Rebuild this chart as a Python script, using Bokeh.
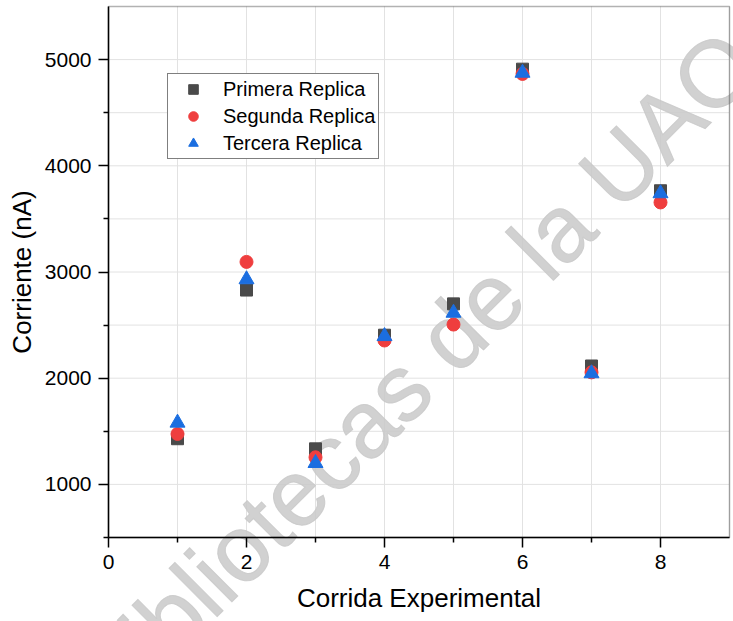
import math
from bokeh.plotting import figure
from bokeh.models import FixedTicker, Legend, LegendItem, Label, Range1d, BoxAnnotation
from bokeh.embed import file_html
from bokeh.resources import INLINE

# ---- data ----
corrida = [1, 2, 3, 4, 5, 6, 7, 8]
primera = [1430, 2830, 1335, 2405, 2700, 4910, 2115, 3765]
segunda = [1475, 3095, 1255, 2355, 2505, 4865, 2055, 3655]
tercera = [1580, 2930, 1200, 2395, 2615, 4875, 2045, 3740]
series_names = ["Primera Replica", "Segunda Replica", "Tercera Replica"]
x_major = [0, 2, 4, 6, 8]
x_minor = [1, 3, 5, 7]
y_major = [1000, 2000, 3000, 4000, 5000]
y_minor = [500, 1500, 2500, 3500, 4500]
x_lim = [0, 9]
y_lim = [500, 5500]
watermark = "Bibliotecas de la UAQ"

FONT = "Liberation Sans"
W, H = 733, 621
# pixel margins of the plotting box inside the canvas
m_left, m_right, m_top, m_bottom = 108, 4, 6, 84

sx = (W - m_left - m_right) / (x_lim[1] - x_lim[0])
sy = (H - m_top - m_bottom) / (y_lim[1] - y_lim[0])
x_range = Range1d(x_lim[0] - m_left / sx, x_lim[1] + m_right / sx)
y_range = Range1d(y_lim[0] - m_bottom / sy, y_lim[1] + m_top / sy)

p = figure(width=W, height=H, output_backend="svg", toolbar_location=None,
           x_range=x_range, y_range=y_range,
           min_border=0, min_border_left=0, min_border_right=0,
           min_border_top=0, min_border_bottom=0)
p.background_fill_color = "white"
p.border_fill_color = "white"
p.outline_line_color = None
p.grid.visible = False

# axes drawn at the edges of the plotting box (take no panel space)
p.xaxis.ticker = FixedTicker(ticks=x_major, minor_ticks=x_minor)
p.yaxis.ticker = FixedTicker(ticks=y_major, minor_ticks=y_minor)
p.xaxis.fixed_location = y_lim[0]
p.yaxis.fixed_location = x_lim[0]
p.xaxis.bounds = tuple(x_lim)
p.yaxis.bounds = tuple(y_lim)

# grid lines at every integer run and every 500 nA
gx = sorted(x_major + x_minor)[1:] + [x_lim[1]]
gy = sorted(y_major + y_minor)[1:]
g1 = p.segment(x0=gx, y0=[y_lim[0]] * len(gx), x1=gx, y1=[y_lim[1]] * len(gx),
               line_color="#e2e2e2", line_width=1)
g2 = p.segment(x0=[x_lim[0]] * len(gy), y0=gy, x1=[x_lim[1]] * len(gy), y1=gy,
               line_color="#e2e2e2", line_width=1)
g1.level = "underlay"
g2.level = "underlay"

# frame box
box = BoxAnnotation(left=x_lim[0], right=x_lim[1], bottom=y_lim[0], top=y_lim[1],
                    fill_alpha=0, line_color="black", line_width=1.5, level="guide")
p.add_layout(box)

for ax in (p.xaxis[0], p.yaxis[0]):
    ax.axis_line_color = "black"
    ax.axis_line_width = 1.5
    ax.major_tick_line_color = "black"
    ax.major_tick_line_width = 1.5
    ax.minor_tick_line_color = "black"
    ax.minor_tick_line_width = 1.5
    ax.major_tick_out = 10
    ax.major_tick_in = 0
    ax.minor_tick_out = 5
    ax.minor_tick_in = 0
    ax.major_label_text_font = FONT
    ax.major_label_text_font_size = "21px"
    ax.major_label_text_color = "black"
    ax.major_label_standoff = 7
    ax.axis_label_text_font = FONT
    ax.axis_label_text_font_size = "26px"
    ax.axis_label_text_font_style = "normal"
    ax.axis_label_text_color = "black"

p.xaxis.axis_label = "Corrida Experimental"
p.xaxis.axis_label_standoff = 11
p.yaxis.axis_label = "Corriente (nA)"
p.yaxis.axis_label_standoff = 5

# watermark (under the markers, over the grid)
wm = Label(x=4.47, y=2070, text=watermark,
           angle=math.pi / 4, text_align="center", text_baseline="alphabetic",
           text_font=FONT, text_font_size="94px", text_font_style="normal",
           text_color="#c9c9c9", text_outline_color="#c9c9c9",
           text_alpha=0.85, level="underlay")
p.add_layout(wm)

r1 = p.scatter(corrida, primera, marker="square", size=12,
               fill_color="#4a4a4a", line_color="#4a4a4a")
r2 = p.scatter(corrida, segunda, marker="circle", size=13,
               fill_color="#ef3e3e", line_color="#ef3e3e")
r3 = p.scatter(corrida, tercera, marker="triangle", size=15,
               fill_color="#1b6ee0", line_color="#1b6ee0")

legend = Legend(
    items=[LegendItem(label=series_names[0], renderers=[r1]),
           LegendItem(label=series_names[1], renderers=[r2]),
           LegendItem(label=series_names[2], renderers=[r3])],
    location=(167, 462), padding=3, margin=0,
    glyph_width=44, glyph_height=24, label_height=24,
    label_standoff=8, spacing=3,
    border_line_color="black", border_line_width=1,
    background_fill_color="white", background_fill_alpha=1,
    label_text_font=FONT, label_text_font_size="20px",
    label_text_color="black")
p.add_layout(legend)

open("out.html", "w").write(file_html(p, INLINE))
